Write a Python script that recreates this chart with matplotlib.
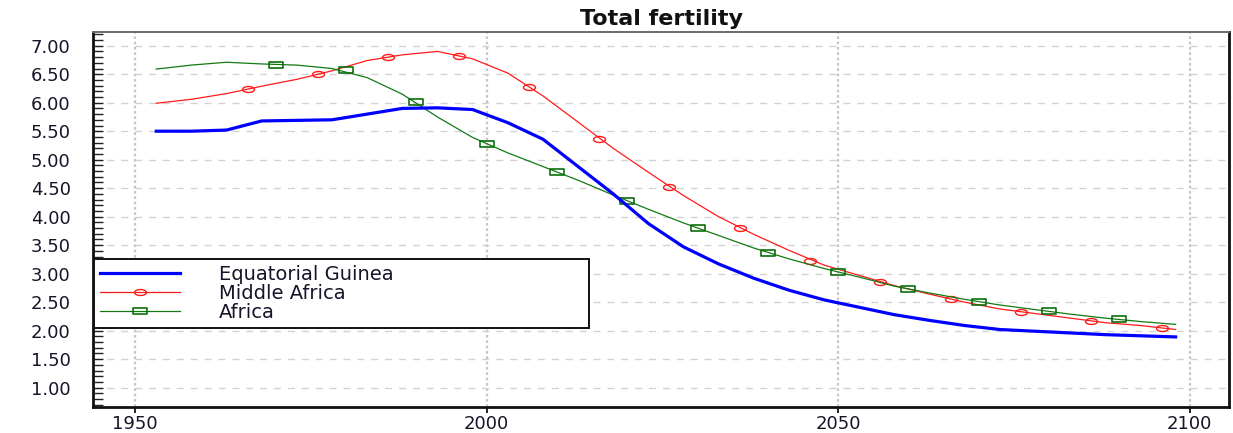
import matplotlib
matplotlib.use("Agg")
import matplotlib.pyplot as plt
from matplotlib.path import Path
from matplotlib.transforms import Affine2D
from matplotlib.ticker import MultipleLocator, FormatStrFormatter

# period midpoints, 1950-1955 ... 2095-2100
YEARS = list(range(1953, 2099, 5))

EQ_GUINEA = [5.50, 5.50, 5.52, 5.68, 5.69, 5.70, 5.80, 5.90, 5.91, 5.88,
             5.65, 5.36, 4.88, 4.40, 3.88, 3.47, 3.17, 2.92, 2.71, 2.54,
             2.41, 2.28, 2.18, 2.09, 2.02, 1.99, 1.96, 1.93, 1.91, 1.89]
MIDDLE_AFRICA = [5.99, 6.06, 6.16, 6.29, 6.41, 6.56, 6.74, 6.84, 6.90, 6.77,
                 6.52, 6.12, 5.66, 5.20, 4.78, 4.37, 4.00, 3.69, 3.41, 3.15,
                 2.97, 2.79, 2.64, 2.50, 2.38, 2.30, 2.22, 2.14, 2.09, 2.02]
AFRICA = [6.59, 6.66, 6.71, 6.68, 6.66, 6.60, 6.44, 6.15, 5.75, 5.39,
          5.12, 4.88, 4.64, 4.38, 4.13, 3.89, 3.67, 3.45, 3.26, 3.09,
          2.94, 2.78, 2.66, 2.55, 2.45, 2.37, 2.29, 2.22, 2.16, 2.11]

# symbol positions along the regional curves
MA_SYMBOL_YEARS = [1966, 1976, 1986, 1996, 2006, 2016, 2026, 2036, 2046,
                   2056, 2066, 2076, 2086, 2096]
MA_SYMBOL_VALUES = [6.24, 6.50, 6.80, 6.82, 6.27, 5.37, 4.52, 3.81, 3.23,
                    2.86, 2.56, 2.33, 2.17, 2.05]
AF_SYMBOL_YEARS = [1970, 1980, 1990, 2000, 2010, 2020, 2030, 2040, 2050,
                   2060, 2070, 2080, 2090]
AF_SYMBOL_VALUES = [6.67, 6.58, 6.01, 5.28, 4.78, 4.28, 3.80, 3.37, 3.03,
                    2.73, 2.51, 2.34, 2.20]

LABELS = ["Equatorial Guinea", "Middle Africa", "Africa"]
TEXT_COLOR = "#15152a"

# flattened circle / box symbols
ellipse = Path.unit_circle().transformed(Affine2D().scale(1.0, 0.5))
box = Path([(-1, -0.45), (1, -0.45), (1, 0.45), (-1, 0.45), (-1, -0.45)],
           [Path.MOVETO, Path.LINETO, Path.LINETO, Path.LINETO, Path.CLOSEPOLY])

plt.rcParams["font.family"] = "DejaVu Sans"

fig = plt.figure(figsize=(12.33, 4.33), dpi=100)
ax = fig.add_axes([0.0754, 0.060, 0.9214, 0.866])

eq_line, = ax.plot(YEARS, EQ_GUINEA, color="#0000ff", lw=2.3, zorder=4)
ma_line, = ax.plot(YEARS, MIDDLE_AFRICA, color="#ff1a1a", lw=0.9, zorder=3)
ma_pts, = ax.plot(MA_SYMBOL_YEARS, MA_SYMBOL_VALUES, ls="none", marker=ellipse,
                  ms=8.6, mfc="none", mec="#ff1a1a", mew=1.0, zorder=3)
af_line, = ax.plot(YEARS, AFRICA, color="#137a13", lw=0.9, zorder=3)
af_pts, = ax.plot(AF_SYMBOL_YEARS, AF_SYMBOL_VALUES, ls="none", marker=box,
                  ms=10.5, mfc="none", mec="#0b6e0b", mew=1.2, zorder=3)

ax.set_xlim(1944.0, 2105.6)
ax.set_ylim(0.66, 7.24)

ax.xaxis.set_major_locator(MultipleLocator(50))
ax.yaxis.set_major_locator(MultipleLocator(0.5))
ax.yaxis.set_minor_locator(MultipleLocator(0.1))
ax.yaxis.set_major_formatter(FormatStrFormatter("%.2f"))

ax.tick_params(axis="y", which="both", direction="in", length=7, width=1.0,
               color="#222222", pad=16, labelsize=13, labelcolor=TEXT_COLOR)
ax.tick_params(axis="x", which="major", direction="out", length=4, width=1.4,
               color="#222222", pad=2, labelsize=13, labelcolor=TEXT_COLOR)

ax.grid(axis="y", which="major", color="#d2d2d2", ls=(0, (5, 5)), lw=1.0)
ax.grid(axis="x", which="major", color="#c6c6c6", ls=(0, (1.2, 1.2)), lw=1.6)
ax.set_axisbelow(True)

for side in ("left", "bottom", "right"):
    ax.spines[side].set_linewidth(2.0)
    ax.spines[side].set_color("#111111")
ax.spines["top"].set_linewidth(1.4)
ax.spines["top"].set_color("#6a6a6a")

ax.set_title("Total fertility", fontsize=16, fontweight="bold",
             color="#111111", pad=5)

leg = ax.legend([eq_line, (ma_line, ma_pts), (af_line, af_pts)], LABELS,
                loc="upper left", bbox_to_anchor=(0.001, 0.0, 0.436, 0.395),
                mode="expand", fontsize=14, handlelength=4.1,
                handletextpad=2.0, labelspacing=0.0, borderpad=0.3,
                borderaxespad=0.0, frameon=True, fancybox=False,
                numpoints=1, labelcolor=TEXT_COLOR)
frame = leg.get_frame()
frame.set_edgecolor("#111111")
frame.set_linewidth(1.4)
frame.set_facecolor("white")
frame.set_alpha(1.0)
leg.set_zorder(6)

fig.savefig("out.png", dpi=100)
